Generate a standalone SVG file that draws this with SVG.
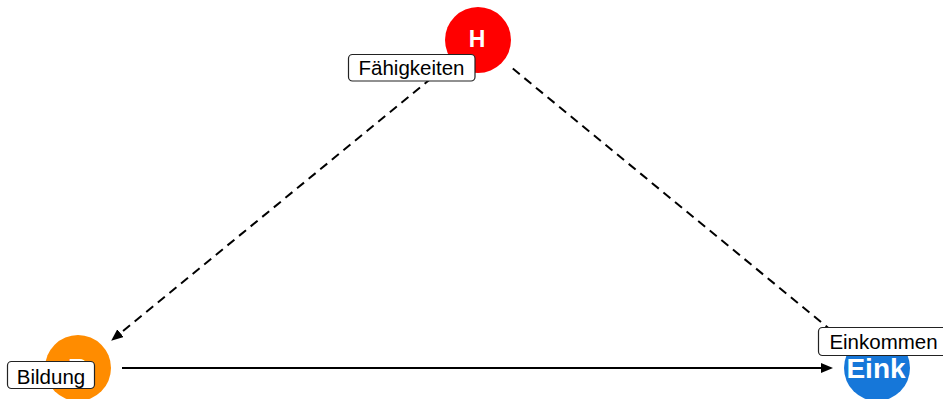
<svg xmlns="http://www.w3.org/2000/svg" width="943" height="399" viewBox="0 0 943 399">
<style>
.edge{fill:none;stroke:#000;stroke-width:2}
.dash{stroke-dasharray:9,6}
.ntext{font-family:"Liberation Sans",Arial,sans-serif;font-weight:bold;fill:#fff;text-anchor:middle}
.lbox{fill:#fff;stroke:#222;stroke-width:1.2}
.ltext{font-family:"Liberation Sans",Arial,sans-serif;font-size:20.5px;fill:#000;text-anchor:middle}
</style>
<defs>
<marker id="arr" markerUnits="userSpaceOnUse" markerWidth="13" markerHeight="11" refX="2" refY="5" orient="auto">
<path d="M0,0 L12,5 L0,10 z" fill="#000"/>
</marker>
</defs>
<rect width="943" height="399" fill="#fff"/>
<g id="connectors">
<line class="edge dash" x1="443.2" y1="68.5" x2="118.9" y2="334.4" marker-end="url(#arr)"/>
<line class="edge dash" x1="512.8" y1="68.6" x2="836.1" y2="334.4" marker-end="url(#arr)"/>
<line class="edge" x1="122" y1="368" x2="823" y2="368" marker-end="url(#arr)"/>
</g>
<g id="node-H">
<circle cx="478" cy="40" r="33" fill="#ff0000"/>
<text class="ntext" x="477" y="47" font-size="23">H</text>
</g>
<g id="node-B">
<circle cx="78" cy="368" r="33" fill="#ff8c00"/>
<text class="ntext" x="78" y="378" font-size="28">B</text>
</g>
<g id="node-Eink">
<circle cx="877" cy="368" r="33" fill="#1677d9"/>
<text class="ntext" x="876" y="378" font-size="28">Eink</text>
</g>
<g id="label-Faehigkeiten">
<rect class="lbox" x="348.5" y="54.5" width="126.5" height="26.5" rx="4"/>
<text class="ltext" x="411.5" y="74.5">Fähigkeiten</text>
</g>
<g id="label-Bildung">
<rect class="lbox" x="7.5" y="361.5" width="87" height="27" rx="4"/>
<text class="ltext" x="51" y="383.5">Bildung</text>
</g>
<g id="label-Einkommen">
<rect class="lbox" x="818.5" y="327.5" width="130" height="28" rx="4"/>
<text class="ltext" x="883.5" y="348.5">Einkommen</text>
</g>
</svg>
